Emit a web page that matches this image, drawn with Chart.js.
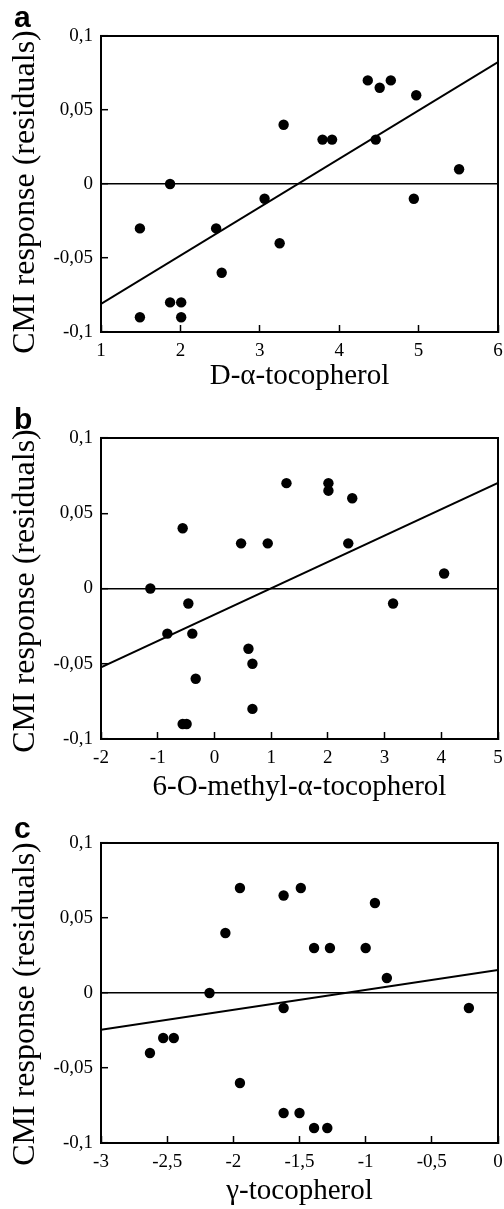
<!DOCTYPE html>
<html>
<head>
<meta charset="utf-8">
<script src="https://cdn.jsdelivr.net/npm/chart.js@4/dist/chart.umd.min.js"></script>
<style>
  html, body { margin: 0; padding: 0; background: #fff; }
  #wrap { position: relative; width: 504px; height: 1209px; }
  .panel { position: absolute; left: 0; width: 504px; }
</style>
</head>
<body>
<div id="wrap">
  <div class="panel" style="top:0;height:400px"><canvas id="chartA"></canvas></div>
  <div class="panel" style="top:400px;height:405px"><canvas id="chartB"></canvas></div>
  <div class="panel" style="top:805px;height:404px"><canvas id="chartC"></canvas></div>
</div>
<script>
// Panel a: D-alpha-tocopherol
const alphaX = [1.49, 1.49, 1.87, 1.87, 2.01, 2.01, 2.45, 2.52, 3.06, 3.25, 3.30, 3.79, 3.91, 4.36, 4.51, 4.65, 4.46, 4.97, 4.94, 5.51];
const alphaY = [-0.03, -0.09, 0, -0.08, -0.08, -0.09, -0.03, -0.06, -0.01, -0.04, 0.04, 0.03, 0.03, 0.07, 0.065, 0.07, 0.03, 0.06, -0.01, 0.01];
const alphaFitX = [1, 6];
const alphaFitY = [-0.081, 0.0824];
const alphaTicks = [1, 2, 3, 4, 5, 6];

// Panel b: 6-O-methyl-alpha-tocopherol
const methylX = [-1.13, -0.56, -0.46, -0.83, -0.39, -0.33, -0.56, -0.49, 0.47, 0.94, 1.27, 0.60, 0.67, 0.67, 2.01, 2.01, 2.43, 2.36, 3.15, 4.05];
const methylY = [0, 0.04, -0.01, -0.03, -0.03, -0.06, -0.09, -0.09, 0.03, 0.03, 0.07, -0.04, -0.05, -0.08, 0.07, 0.065, 0.06, 0.03, -0.01, 0.01];
const methylFitX = [-2, 5];
const methylFitY = [-0.0524, 0.0702];
const methylTicks = [-2, -1, 0, 1, 2, 3, 4, 5];

// Panel c: gamma-tocopherol
const gammaX = [-2.63, -2.53, -2.45, -2.18, -2.06, -1.95, -1.95, -1.62, -1.62, -1.62, -1.49, -1.50, -1.39, -1.39, -1.27, -1.29, -1.00, -0.93, -0.84, -0.22];
const gammaY = [-0.04, -0.03, -0.03, 0, 0.04, 0.07, -0.06, 0.065, -0.01, -0.08, 0.07, -0.08, 0.03, -0.09, 0.03, -0.09, 0.03, 0.06, 0.01, -0.01];
const gammaFitX = [-3, 0];
const gammaFitY = [-0.0245, 0.0154];
const gammaTicks = [-3, -2.5, -2, -1.5, -1, -0.5, 0];

const yTicks = [-0.1, -0.05, 0, 0.05, 0.1];
const yTitle = 'CMI response (residuals)';

const serif = '"Liberation Serif", "Times New Roman", serif';

function fmt(v) {
    return String(Math.round(v * 100) / 100).replace('.', ',');
}

function toPoints(xs, ys) {
    return xs.map((x, i) => ({ x: x, y: ys[i] }));
}

// box around the plot area, y title and panel letter
const framePlugin = {
    id: 'frame',
    afterDraw(chart, args, opts) {
        const { ctx, chartArea: a } = chart;
        ctx.save();
        ctx.lineWidth = 2;
        ctx.strokeStyle = '#000';
        ctx.strokeRect(a.left, a.top, a.right - a.left, a.bottom - a.top);
        ctx.fillStyle = '#000';
        ctx.font = 'bold 30px "Liberation Sans", Arial, sans-serif';
        ctx.textAlign = 'left';
        ctx.textBaseline = 'alphabetic';
        ctx.fillText(opts.letter, 14, opts.letterY);

        // y axis title, reads bottom to top
        ctx.translate(34, opts.titleY);
        ctx.rotate(-Math.PI / 2);
        ctx.font = '32px ' + serif;
        ctx.textAlign = 'center';
        ctx.fillText(yTitle, 0, 0);
        ctx.restore();
    }
};

function makePanel(id, cfg) {
    const ctx = document.getElementById(id).getContext('2d');
    return new Chart(ctx, {
        type: 'scatter',
        data: {
            datasets: [{
                type: 'line',
                data: toPoints(cfg.fitX, cfg.fitY),
                borderColor: '#000',
                borderWidth: 2,
                pointRadius: 0,
                fill: false
            }, {
                data: toPoints(cfg.xs, cfg.ys),
                backgroundColor: '#000',
                borderWidth: 0,
                pointRadius: 5.2,
                pointHoverRadius: 5.2
            }]
        },
        options: {
            responsive: true,
            maintainAspectRatio: false,
            animation: false,
            events: [],
            layout: {
                padding: { left: 0, right: 6, top: cfg.plotTop, bottom: 0 }
            },
            plugins: {
                legend: { display: false },
                tooltip: { enabled: false },
                frame: { letter: cfg.letter, letterY: cfg.letterY, titleY: cfg.yTitleY }
            },
            scales: {
                x: {
                    type: 'linear',
                    min: cfg.xTicks[0],
                    max: cfg.xTicks[cfg.xTicks.length - 1],
                    afterBuildTicks: (s) => { s.ticks = cfg.xTicks.map(v => ({ value: v })); },
                    afterFit: (s) => { s.height = cfg.xAxisHeight; s.paddingLeft = 0; s.paddingRight = 0; },
                    border: { display: true, color: '#000', width: 2 },
                    grid: { drawOnChartArea: false, tickLength: -7, tickColor: '#000', tickWidth: 1.5 },
                    ticks: {
                        color: '#000',
                        padding: 15,
                        maxRotation: 0,
                        autoSkip: false,
                        font: { family: serif, size: 19 },
                        callback: (v) => fmt(v)
                    },
                    title: {
                        display: true,
                        text: cfg.xTitle,
                        color: '#000',
                        font: { family: serif, size: 29 },
                        padding: { top: 0, bottom: cfg.xTitlePad }
                    }
                },
                y: {
                    type: 'linear',
                    min: -0.1,
                    max: 0.1,
                    afterBuildTicks: (s) => { s.ticks = yTicks.map(v => ({ value: v })); },
                    afterFit: (s) => { s.width = 101; s.paddingTop = 0; s.paddingBottom = 0; },
                    border: { display: true, color: '#000', width: 2 },
                    grid: {
                        color: (c) => (c.tick && c.tick.value === 0 ? '#000' : 'rgba(0,0,0,0)'),
                        lineWidth: 1.4,
                        tickLength: -7,
                        tickColor: '#000',
                        tickWidth: 1.5
                    },
                    ticks: {
                        color: '#000',
                        padding: 15,
                        autoSkip: false,
                        font: { family: serif, size: 19 },
                        callback: (v) => fmt(v)
                    },
                    title: { display: false }
                }
            }
        },
        plugins: [framePlugin]
    });
}

makePanel('chartA', {
    xs: alphaX, ys: alphaY, fitX: alphaFitX, fitY: alphaFitY,
    xTicks: alphaTicks, xTitle: 'D-\u03b1-tocopherol',
    letter: 'a', letterY: 27, yTitleY: 192,
    plotTop: 36, xAxisHeight: 68, xTitlePad: 6
});

makePanel('chartB', {
    xs: methylX, ys: methylY, fitX: methylFitX, fitY: methylFitY,
    xTicks: methylTicks, xTitle: '6-O-methyl-\u03b1-tocopherol',
    letter: 'b', letterY: 29, yTitleY: 191,
    plotTop: 38, xAxisHeight: 66, xTitlePad: 0
});

makePanel('chartC', {
    xs: gammaX, ys: gammaY, fitX: gammaFitX, fitY: gammaFitY,
    xTicks: gammaTicks, xTitle: '\u03b3-tocopherol',
    letter: 'c', letterY: 33, yTitleY: 199,
    plotTop: 38, xAxisHeight: 66, xTitlePad: 0
});
</script>
</body>
</html>
